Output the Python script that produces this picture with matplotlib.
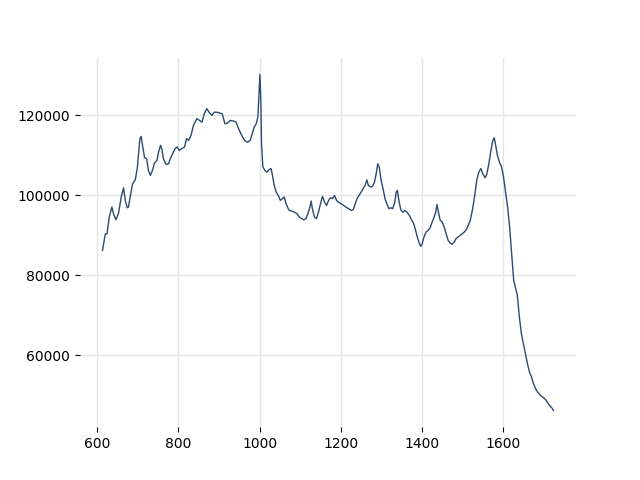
import matplotlib
matplotlib.use("Agg")
import matplotlib.pyplot as plt

wavenumber = [613, 619.7, 624, 629.6, 636, 640, 646, 652.5, 659, 664.8, 669, 674, 677, 681, 687,
              693.6, 698.5, 701.8, 705, 708, 711.6, 716.5, 721.5, 726, 731, 736, 741, 747, 751,
              756, 759, 763, 769, 775.6, 780, 785.5, 792, 797, 802, 808.6, 815, 820, 825, 831,
              837, 845.5, 852, 858, 863.5, 870, 876.6, 882.5, 888, 894.8, 901, 908, 914.5, 921,
              927.6, 935.7, 942, 948, 954, 959, 964.5, 970, 976.8, 981.8, 986.7, 991.6, 995.8,
              998, 1000.7, 1003, 1004.7, 1008, 1013, 1018, 1023, 1028, 1031, 1036, 1041, 1046,
              1051, 1056, 1060.6, 1065.5, 1070.4, 1073, 1079.5, 1086, 1092.6, 1097.5, 1104, 1109,
              1114, 1119, 1124, 1127, 1130, 1135, 1140, 1145, 1150, 1155, 1160, 1165, 1170,
              1174.6, 1179.6, 1184.5, 1189.4, 1194, 1201, 1206.6, 1212.5, 1219, 1225.6, 1230.5,
              1235.5, 1240, 1245, 1250, 1255, 1260, 1264, 1268, 1273, 1278, 1283, 1288, 1291,
              1294.6, 1299.5, 1305, 1309, 1313.5, 1318.5, 1323.4, 1328, 1333, 1336.5, 1339.7,
              1343, 1348, 1353, 1358, 1363, 1369, 1374, 1379, 1384, 1389, 1394, 1397, 1400.5,
              1405, 1410, 1415, 1420, 1425, 1430, 1434, 1437, 1440.6, 1445, 1450, 1454.7, 1459.6,
              1464.5, 1469.5, 1474, 1479, 1484, 1489, 1494, 1499, 1504, 1509, 1514, 1519, 1525,
              1530, 1535, 1540, 1545, 1550, 1555.7, 1560, 1564.8, 1570, 1574.6, 1578, 1581, 1586,
              1591, 1596, 1601, 1606, 1611, 1616, 1621, 1626, 1631, 1635, 1640, 1645, 1650, 1655,
              1660, 1665, 1670, 1675, 1680, 1685, 1690, 1695, 1700, 1705, 1710, 1715, 1720, 1724]

intensity = [86250, 90400, 90400, 94600, 97100, 95400, 93900, 95600, 99600, 101900, 98750, 96900,
             97100, 99600, 102900, 103900, 106700, 110400, 114200, 114750, 112500, 109400, 109200,
             106250, 105000, 106250, 108100, 108750, 110800, 112500, 111700, 109200, 107750,
             107900, 109200, 110400, 111700, 112100, 111250, 111700, 112100, 114200, 113750,
             115000, 117500, 119200, 118750, 118300, 120400, 121700, 120600, 120000, 120800,
             120800, 120600, 120400, 117900, 118100, 118750, 118600, 118300, 116700, 115400,
             114400, 113600, 113300, 113750, 115400, 117100, 117900, 119600, 124600, 130250,
             123750, 112900, 107100, 106250, 105800, 106400, 106700, 105400, 102500, 100800,
             100000, 98750, 99200, 99600, 97900, 96700, 96250, 96100, 95800, 95400, 94600, 94200,
             93900, 94200, 95400, 97100, 98600, 96700, 94600, 94200, 95800, 97900, 99750, 98300,
             97500, 98750, 99400, 99200, 100000, 98750, 98300, 97900, 97500, 97100, 96700, 96250,
             96400, 97900, 99200, 100000, 100800, 101700, 102500, 103900, 102500, 102100, 102250,
             103300, 105800, 107900, 107100, 103750, 101250, 99200, 97900, 96700, 96900, 96700,
             98300, 100800, 101250, 98750, 96400, 95800, 96250, 95800, 95000, 93900, 93100, 91400,
             89400, 87900, 87250, 87900, 89600, 90800, 91250, 91900, 93300, 94600, 95800, 97750,
             95800, 93750, 93300, 92100, 90400, 88750, 88100, 87750, 88300, 89200, 89600, 90000,
             90400, 90800, 91400, 92500, 93750, 96700, 100000, 103750, 105800, 106700, 105400,
             104400, 105400, 107900, 111250, 113750, 114400, 112900, 110000, 108300, 107100,
             104600, 100800, 97100, 92100, 85400, 78750, 76700, 75000, 69600, 65400, 62900, 60400,
             57900, 55800, 54600, 52900, 51700, 50800, 50250, 49750, 49400, 48900, 48100, 47400,
             46900, 46250]

fig, ax = plt.subplots(figsize=(6.4, 4.8), dpi=100)
ax.plot(wavenumber, intensity, color="#2c4a70", linewidth=1.0)
ax.grid(True, color="#e5e5e5", linewidth=1)
ax.set_axisbelow(True)
for s in ax.spines.values():
    s.set_visible(False)
fig.savefig("out.png", dpi=100)
